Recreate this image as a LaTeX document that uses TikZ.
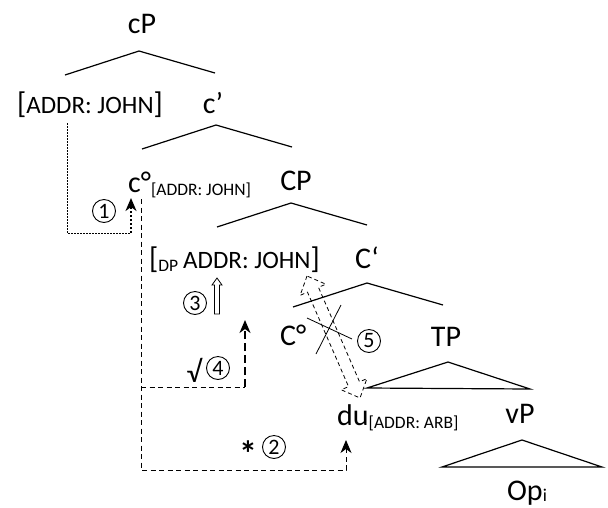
\documentclass[tikz,border=0pt]{standalone}
\usepackage{fontspec}
\setmainfont{Carlito}
\usetikzlibrary{arrows.meta,calc}

\newcommand{\catsize}{\fontsize{30}{36}\selectfont}
\newcommand{\featsize}{\fontsize{25}{30}\selectfont}
\newcommand{\subsize}{\fontsize{17.5}{21}\selectfont}
\newcommand{\featsub}[1]{\raisebox{-3pt}{\subsize #1}}

\begin{document}
\begin{tikzpicture}[x=1pt,y=-1pt]
	\tikzstyle{word}=[inner sep=0pt, anchor=base, font=\catsize]
	\tikzstyle{connect}=[line width=1.2pt]
	\tikzstyle{num}=[circle, draw, line width=0.9pt, inner sep=0pt, minimum size=23pt, font=\fontsize{22}{22}\selectfont]
	\tikzstyle{agree}=[line width=0.9pt, dash pattern=on 1.5pt off 1.5pt]
	\tikzstyle{move}=[line width=0.9pt, dash pattern=on 5pt off 3.5pt]
	\tikzstyle{tip}=[-{Stealth[length=13pt,width=11pt,inset=4pt]}]
	
	\useasboundingbox (0,0) rectangle (608,507);
	
	% tree labels
	\node[word] (cP)     at (142,33)  {cP};
	\node[word] (spec)   at (90,113)  {[{\featsize ADDR: JOHN}]};
	\node[word] (cbar)   at (213,113) {c’};
	\node[word, anchor=base west] (chead) at (128,192) {c°\featsub{[ADDR: JOHN]}};
	\node[word] (CP)     at (296,190) {CP};
	\node[word, anchor=base west] (specCP) at (149,268) {[\featsub{DP}\,{\featsize ADDR: JOHN}]};
	\node[word] (Cbar)   at (367,268) {C‘};
	\node[word, anchor=base west] (Chead) at (280,345) {C°};
	\node[word] (TP)     at (446,346) {TP};
	\node[word, anchor=base west] (du) at (337,425) {du\featsub{[ADDR: ARB]}};
	\node[word] (vP)     at (520,423) {vP};
	\node[word] (Op)     at (527,500) {Op\raisebox{-1pt}{\fontsize{18}{18}\selectfont i}};
	
	% branching points
	\coordinate (cP-fork)   at ($(cP.base)+(-3,18)$);
	\coordinate (cbar-fork) at ($(cbar.base)+(3,12)$);
	\coordinate (CP-fork)   at ($(CP.base)+(-5,13)$);
	\coordinate (Cbar-fork) at ($(Cbar.base)+(0,15)$);
	\coordinate (TP-fork)   at ($(TP.base)+(2,16)$);
	\coordinate (vP-fork)   at ($(vP.base)+(2,17)$);
	
	\draw[connect] (cP-fork)   +(-74,24) -- (cP-fork)   -- +(76,22);
	\draw[connect] (cbar-fork) +(-74,24) -- (cbar-fork) -- +(76,22);
	\draw[connect] (CP-fork)   +(-74,24) -- (CP-fork)   -- +(76,22);
	\draw[connect] (Cbar-fork) +(-74,24) -- (Cbar-fork) -- +(76,22);
	\draw[connect] (TP-fork) -- +(-81,26) -- +(82,27) -- cycle;
	\draw[connect] (vP-fork) -- +(-80,27) -- +(80,27) -- cycle;
	
	% (1) agree
	\coordinate (agree-src) at ($(spec.base)+(-23,10)$);
	\coordinate (agree-tgt) at ($(chead.base west)+(3,6)$);
	\coordinate (agree-bend) at ($(agree-tgt)+(0,35)$);
	\draw[agree] (agree-src) |- (agree-bend);
	\draw[line width=2.5pt, dash pattern=on 2pt off 2pt, tip] (agree-bend) -- (agree-tgt);
	\node[num] (n1) at (104,211) {1};
	
	% (2) blocked movement to du
	\coordinate (move-src) at ($(chead.base west)+(13,7)$);
	\coordinate (du-tgt)   at ($(du.base west)+(9,15)$);
	\draw[move, tip] (move-src) -- ++(0,271) -| (du-tgt);
	\node[inner sep=0pt, anchor=base, font=\bfseries\fontsize{36}{36}\selectfont] (star) at (248,466) {*};
	\node[num] (n2) at (274,447) {2};
	
	% (3) raising of the DP
	\coordinate (raise) at ($(specCP.base west)+(68,46)$);
	\draw[line width=0.8pt] (raise) ++(-2.5,0) -- ++(0,-29) -- ++(-2.5,0) -- ++(5,-7)
		-- ++(5,7) -- ++(-2.5,0) -- ++(0,29) -- cycle;
	\node[num] (n3) at (195,303) {3};
	
	% (4) licit movement
	\coordinate (fork4) at ($(move-src)+(0,188)$);
	\coordinate (spec-tgt) at ($(specCP.base west)+(96,52)$);
	\draw[move] (fork4) -- (fork4 -| spec-tgt);
	\draw[line width=2pt, dash pattern=on 8pt off 4pt, tip] (fork4 -| spec-tgt) -- (spec-tgt);
	\node[inner sep=0pt, anchor=base, font=\catsize] (ok) at (194,382) {√};
	\node[num] (n4) at (218,368) {4};
	
	% (5) lowering, crossed out
	\coordinate (lower-top) at (307,276);
	\begin{scope}[shift={(lower-top)}, rotate=-66.5]
		\draw[line width=0.8pt, dash pattern=on 4pt off 3pt]
			(0,0) -- (15,14) -- (15,6) -- (118,6) -- (118,14) -- (133,0)
			-- (118,-14) -- (118,-6) -- (15,-6) -- (15,-14) -- cycle;
	\end{scope}
	\draw[line width=0.8pt] (307,318) -- (352,339);
	\draw[line width=0.8pt] (341,305) -- (316,354);
	\node[num] (n5) at (369,341) {5};
\end{tikzpicture}
\end{document}
